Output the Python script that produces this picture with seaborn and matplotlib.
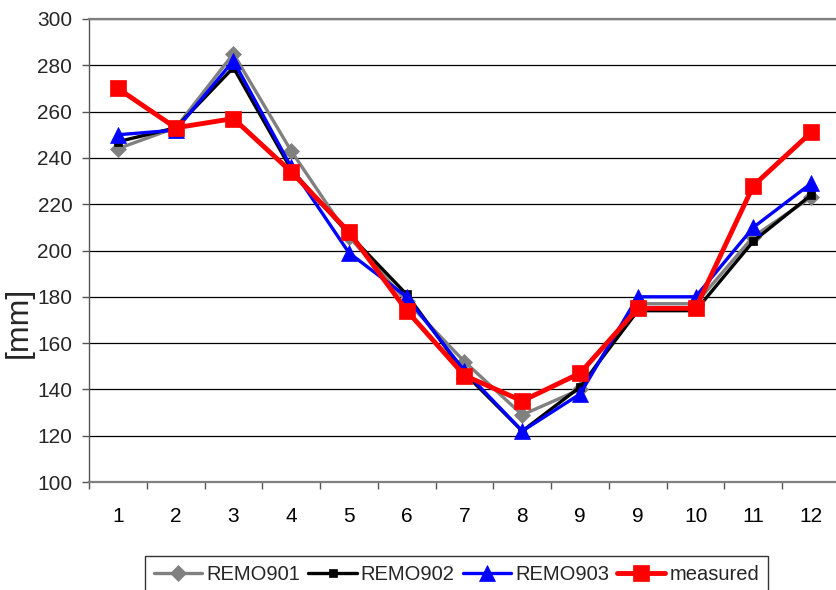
import numpy as np
import pandas as pd
import matplotlib
matplotlib.use("Agg")
import matplotlib.pyplot as plt
import seaborn as sns
from matplotlib.ticker import FixedLocator, NullFormatter, FixedFormatter

# Monthly precipitation totals [mm]
months = ["1", "2", "3", "4", "5", "6", "7", "8", "9", "9", "10", "11", "12"]
remo901 = [244, 253, 285, 243, 206, 178, 152, 129, 140, 177, 177, 206, 223]
remo902 = [247, 253, 279, 235, 207, 181, 147, 122, 141, 174, 174, 204, 224]
remo903 = [250, 252, 282, 236, 199, 180, 148, 122, 138, 180, 180, 210, 229]
measured = [270, 253, 257, 234, 208, 174, 146, 135, 147, 175, 175, 228, 251]

series_names = ["REMO901", "REMO902", "REMO903", "measured"]
series_values = [remo901, remo902, remo903, measured]

pos = np.arange(len(months))
df = pd.concat(
    [pd.DataFrame({"pos": pos, "value": vals, "series": name})
     for name, vals in zip(series_names, series_values)],
    ignore_index=True,
)

styles = {
    "REMO901": dict(color="#808080", marker="D", markersize=8, linewidth=2.4),
    "REMO902": dict(color="#000000", marker="s", markersize=5.5, linewidth=2.4),
    "REMO903": dict(color="#0000FF", marker="^", markersize=12, linewidth=2.4),
    "measured": dict(color="#FF0000", marker="s", markersize=11, linewidth=3.5),
}

sns.set_style("white")
plt.rcParams["font.family"] = ["Liberation Sans", "DejaVu Sans"]

fig = plt.figure(figsize=(8.37, 5.90), dpi=100)
ax = fig.add_axes([89 / 837, 108 / 590, 751 / 837, 463 / 590])

for i, name in enumerate(series_names):
    st = styles[name]
    sns.lineplot(
        data=df[df["series"] == name], x="pos", y="value", ax=ax,
        color=st["color"], marker=st["marker"], markersize=st["markersize"],
        linewidth=st["linewidth"], markeredgecolor=st["color"],
        markeredgewidth=0.5, label=name, zorder=3 + i, legend=False,
    )

ax.set_xlim(-0.5, len(months) - 0.5)
ax.set_ylim(100, 300)
ax.set_yticks(np.arange(100, 301, 20))

# category labels centred, tick marks on category boundaries
ax.xaxis.set_major_locator(FixedLocator(np.arange(-0.5, len(months), 1.0)))
ax.xaxis.set_major_formatter(NullFormatter())
ax.xaxis.set_minor_locator(FixedLocator(pos))
ax.xaxis.set_minor_formatter(FixedFormatter(months))
ax.tick_params(axis="x", which="major", direction="out", length=5,
               width=1, color="#555555", bottom=True)
ax.tick_params(axis="x", which="minor", length=0, pad=18, labelsize=15,
               labelcolor="black")
ax.tick_params(axis="y", direction="out", length=5, width=1,
               color="#555555", pad=7, labelsize=15, left=True)

ax.set_xlabel("")
ax.set_ylabel("[mm]", fontsize=23)
ax.yaxis.set_label_coords(-0.073, 0.345)

ax.set_axisbelow(True)
ax.yaxis.grid(True, color="black", linewidth=0.9)
ax.xaxis.grid(False)

for side in ["top", "bottom"]:
    ax.spines[side].set_visible(True)
    ax.spines[side].set_color("#808080")
    ax.spines[side].set_linewidth(1.6)
ax.spines["left"].set_color("#555555")
ax.spines["left"].set_linewidth(1.0)
ax.spines["right"].set_visible(False)

handles, labels = ax.get_legend_handles_labels()
leg = fig.legend(
    handles, labels, loc="upper left",
    bbox_to_anchor=(145 / 837, 1 - 556 / 590),
    ncol=4, fontsize=14.5, frameon=True, fancybox=False,
    edgecolor="black", handlelength=2.4, handletextpad=0.2,
    columnspacing=0.4, borderpad=0.45, borderaxespad=0,
)
leg.get_frame().set_linewidth(1.0)

fig.savefig("out.png", dpi=100, facecolor="white")
